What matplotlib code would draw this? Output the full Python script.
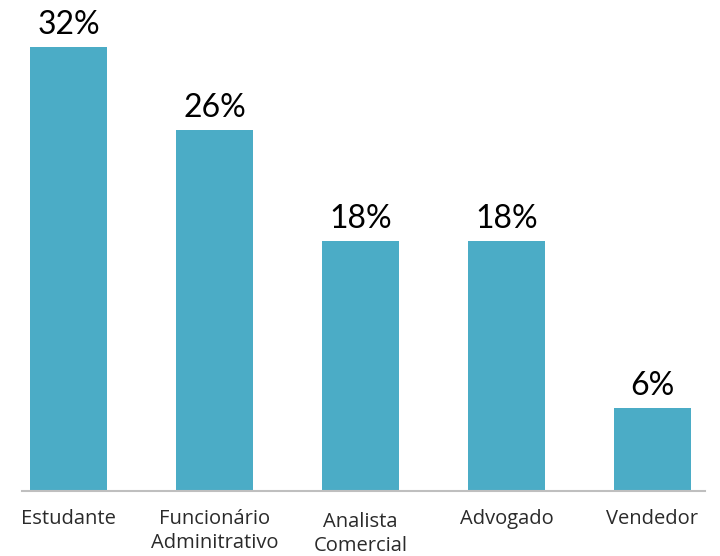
import matplotlib.pyplot as plt

# データ
categories = ['Estudante', 'Funcionário\nAdminitrativo', 'Analista\nComercial', 'Advogado', 'Vendedor']
values = [32, 26, 18, 18, 6]
labels = ['32%', '26%', '18%', '18%', '6%']

plt.rcParams['font.family'] = ['Lato', 'DejaVu Sans']

fig = plt.figure(figsize=(7.2, 5.56), dpi=100)
ax = fig.add_axes([22 / 720, 65 / 556, 683 / 720, 491 / 556])

ax.bar(range(len(values)), values, width=0.53, color='#4BACC6')

# バーの上に数値ラベル
for i, v in enumerate(values):
    ax.text(i, v + 0.5, labels[i], ha='center', va='bottom', fontsize=23, color='black')

# カテゴリ名
offsets = [0, 0, 0.2, 0, 0]
for i, c in enumerate(categories):
    ax.text(i, -1.3 - offsets[i], c, ha='center', va='top', fontsize=14.5,
            color='#2a2a2a', family=['Open Sans', 'DejaVu Sans'], linespacing=1.25)

ax.set_xlim(-0.32, 4.36)
ax.set_ylim(0, 35.4)
ax.set_xticks([])
ax.set_yticks([])
for s in ['top', 'right', 'left']:
    ax.spines[s].set_visible(False)
ax.spines['bottom'].set_color('#BFBFBF')
ax.spines['bottom'].set_linewidth(1.5)

fig.savefig('out.png', dpi=100)
